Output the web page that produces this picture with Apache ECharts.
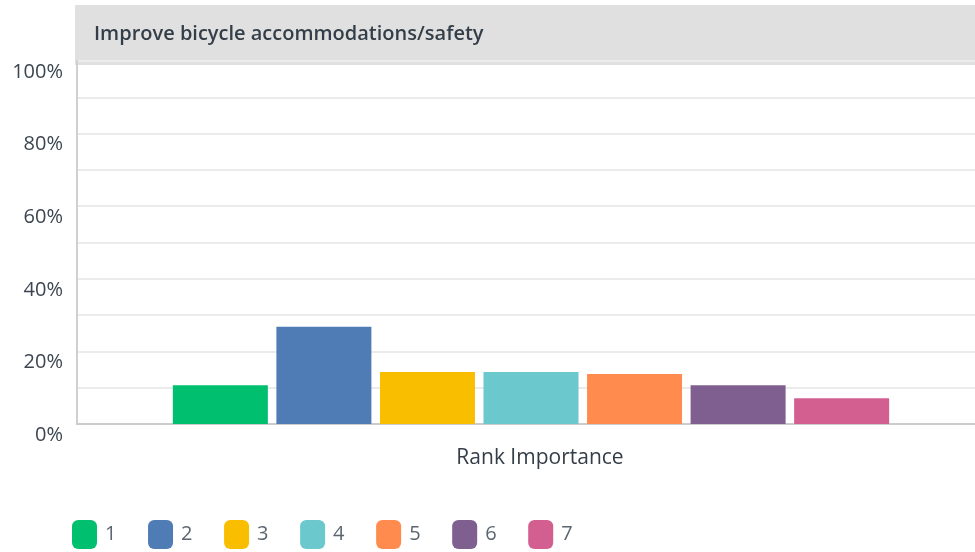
<!DOCTYPE html>
<html>
<head>
<meta charset="utf-8">
<script src="https://cdn.jsdelivr.net/npm/echarts@6/dist/echarts.min.js"></script>
<style>
  html, body { margin: 0; padding: 0; background: #fff; }
  #main { width: 975px; height: 552px; }
</style>
</head>
<body>
<div id="main"></div>
<script>
const categories = ['Rank Importance']
const ranks = ['1', '2', '3', '4', '5', '6', '7']
const values = [10.7, 26.8, 14.3, 14.3, 13.8, 10.7, 7.1]
const colors = ['#00bf6f', '#507cb6', '#f9be00', '#6bc8cd', '#ff8b4f', '#7f5f90', '#d25f90']
const yTicks = [0, 20, 40, 60, 80, 100]

const chart = echarts.init(document.getElementById('main'))

const option = {
  animation: false,
  textStyle: { fontFamily: '"Open Sans", sans-serif' },
  title: {
    text: 'Improve bicycle accommodations/safety',
    left: 89,
    top: 19,
    textStyle: { fontSize: 20, fontWeight: 600, color: '#333e48', fontFamily: '"Open Sans", sans-serif' }
  },
  graphic: [{
    type: 'rect',
    z: -1,
    shape: { x: 75, y: 5, width: 900, height: 60 },
    style: { fill: '#e0e0e0' }
  }],
  legend: {
    left: 67,
    top: 515,
    itemWidth: 25,
    itemHeight: 29,
    itemGap: 31.6,
    icon: 'roundRect',
    textStyle: { fontSize: 20, color: '#5b6670', padding: [0, 0, 0, 3] },
    data: ranks
  },
  grid: { left: 77, right: -10, top: 61, bottom: 128, outerBoundsMode: 'none' },
  xAxis: {
    type: 'category',
    data: categories,
    axisLine: { lineStyle: { color: '#cccccc', width: 2 } },
    axisTick: { show: false },
    axisLabel: { fontSize: 21, color: '#333e48', margin: 24, padding: [0, 0, 0, 18] }
  },
  yAxis: {
    type: 'value',
    min: 0,
    max: 100,
    interval: 10,
    axisLine: { show: true, lineStyle: { color: '#d0d0d0', width: 2 } },
    axisTick: { show: false },
    axisLabel: {
      fontSize: 20,
      lineHeight: 20,
      color: '#3c4650',
      margin: 14,
      verticalAlign: 'top',
      padding: [1, 0, 0, 0],
      formatter: v => yTicks.includes(v) ? v + '%' : ''
    },
    splitLine: { lineStyle: { color: '#ebebeb', width: 2 } }
  },
  series: ranks.map((r, i) => ({
    name: r,
    type: 'bar',
    barWidth: 95,
    barGap: '9%',
    itemStyle: { color: colors[i] },
    data: [values[i]]
  }))
}

chart.setOption(option)
</script>
</body>
</html>
